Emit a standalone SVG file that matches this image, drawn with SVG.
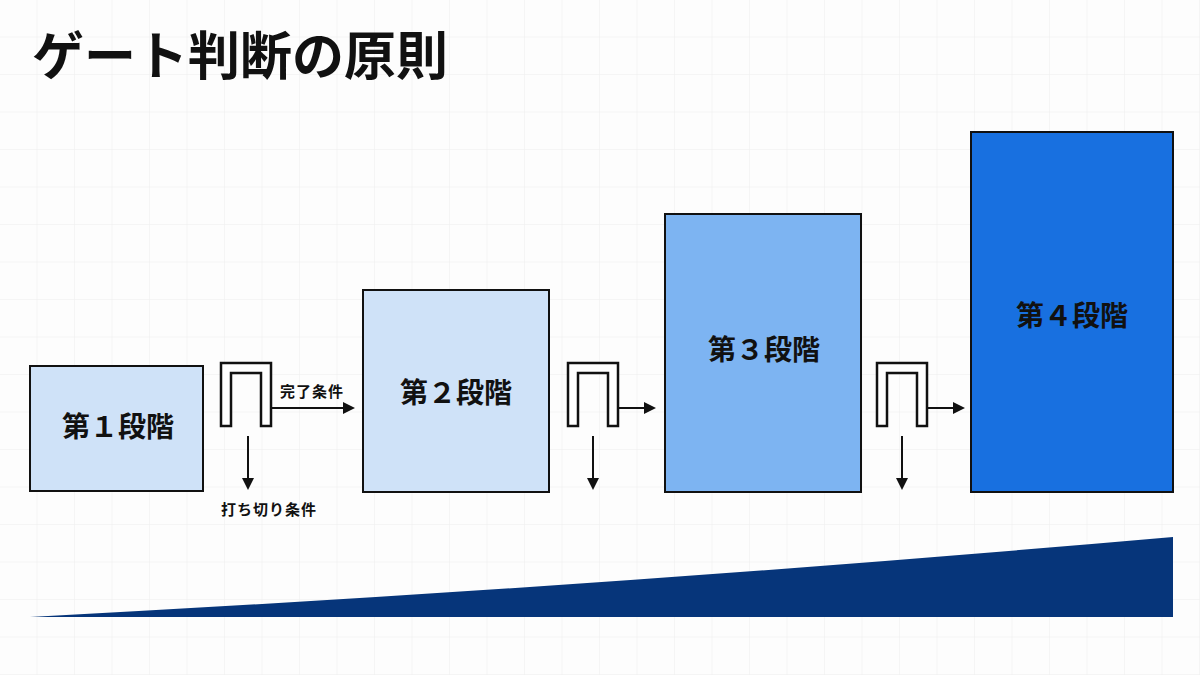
<svg xmlns="http://www.w3.org/2000/svg" width="1200" height="675" viewBox="0 0 1200 675">
  <style>
    .stage { stroke: #111; stroke-width: 2; }
    .lbl { font-family: "Noto Sans CJK JP", "Noto Sans", sans-serif; font-weight: 700; fill: #111; text-anchor: middle; }
    .stxt { font-size: 28px; }
    .small { font-size: 15px; letter-spacing: 1px; }
    .gate { fill: #fff; stroke: #111; stroke-width: 2.5; stroke-linejoin: miter; }
    .arr { stroke: #111; stroke-width: 2; fill: none; marker-end: url(#ah); }
  </style>
  <defs>
    <pattern id="grid" width="37.5" height="37.5" patternUnits="userSpaceOnUse">
      <path d="M37.5,0 V37.5 M0,37.5 H37.5" fill="none" stroke="#eeeeee" stroke-width="1"/>
    </pattern>
    <marker id="ah" markerUnits="userSpaceOnUse" markerWidth="13" markerHeight="13" refX="4" refY="6.5" orient="auto" viewBox="0 0 13 13">
      <path d="M0,0.5 L12,6.5 L0,12.5 Z" fill="#111"/>
    </marker>
  </defs>
  <rect width="1200" height="675" fill="#fdfdfd"/>
  <rect width="1200" height="675" fill="url(#grid)"/>

  <text x="32" y="75" font-family="Noto Sans CJK JP, Noto Sans, sans-serif" font-weight="700" font-size="52" fill="#111">ゲート判断の原則</text>

  <g id="stage1">
    <rect class="stage" x="30" y="366" width="173" height="125" fill="#cfe2f8"/>
    <text class="lbl stxt" x="118" y="437">第１段階</text>
  </g>
  <g id="stage2">
    <rect class="stage" x="363" y="290" width="186" height="202" fill="#cfe2f8"/>
    <text class="lbl stxt" x="456" y="403">第２段階</text>
  </g>
  <g id="stage3">
    <rect class="stage" x="665" y="214" width="196" height="278" fill="#7db4f2"/>
    <text class="lbl stxt" x="764" y="360">第３段階</text>
  </g>
  <g id="stage4">
    <rect class="stage" x="971" y="132" width="202" height="360" fill="#1870e0"/>
    <text class="lbl stxt" x="1072" y="326">第４段階</text>
  </g>

  <g id="gate1">
    <path class="gate" d="M221,426 V363 H271 V426 H261 V373 H231 V426 Z"/>
  </g>
  <g id="gate2">
    <path class="gate" d="M568,426 V363 H618 V426 H608 V373 H578 V426 Z"/>
  </g>
  <g id="gate3">
    <path class="gate" d="M877,426 V363 H927 V426 H917 V373 H887 V426 Z"/>
  </g>

  <g id="connectors">
    <line class="arr" x1="271" y1="408" x2="347" y2="408"/>
    <line class="arr" x1="248" y1="436" x2="248" y2="482"/>
    <line class="arr" x1="618" y1="408" x2="648" y2="408"/>
    <line class="arr" x1="593" y1="436" x2="593" y2="482"/>
    <line class="arr" x1="927" y1="408" x2="957" y2="408"/>
    <line class="arr" x1="902" y1="436" x2="902" y2="482"/>
  </g>

  <text class="lbl small" x="312" y="397">完了条件</text>
  <text class="lbl small" x="269" y="515">打ち切り条件</text>

  <path id="wedge" d="M30,617 Q602,587 1173,537 V617 Z" fill="#06357a"/>
</svg>
